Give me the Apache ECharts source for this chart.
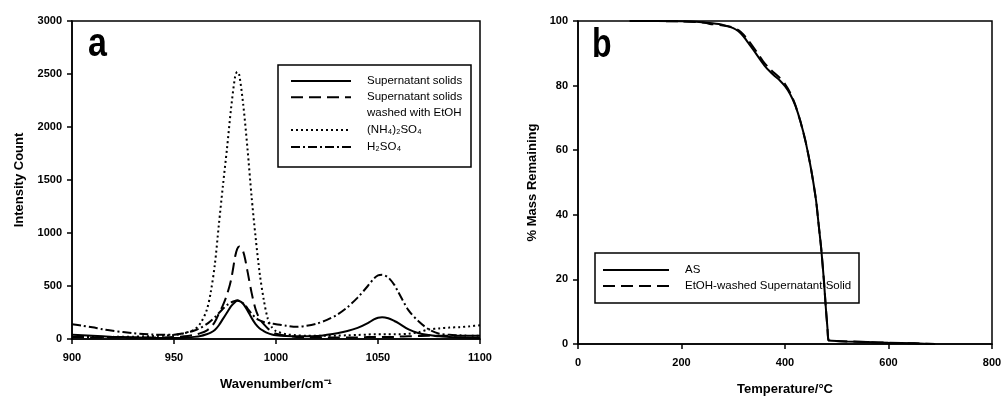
<!DOCTYPE html>
<html><head><meta charset="utf-8">
<script src="https://cdn.jsdelivr.net/npm/echarts@6/dist/echarts.min.js"></script>
<style>html,body{margin:0;padding:0;background:#fff}#c{width:1002px;height:398px}</style>
</head><body><div id="c"></div>
<script>
// ---- Panel a: Raman spectra ----
const wavenumbers = [900,905,910,915,920,925,930,935,940,945,950,955,960,963,966,968,970,972,974,976,978,980,981,982,984,986,988,990,992,994,996,998,1000,1005,1010,1015,1020,1025,1030,1035,1040,1045,1048,1050,1052,1055,1058,1060,1065,1070,1075,1080,1085,1090,1095,1100];
const supernatantSolids = [40,35,30,25,20,18,15,12,10,10,10,12,20,28,45,60,85,130,190,250,310,350,360,358,330,270,200,140,100,75,55,42,35,28,25,25,28,40,55,75,105,150,185,200,205,195,170,150,90,55,38,25,20,15,12,10];
const washedSolids = [20,18,15,15,15,15,15,15,15,15,18,25,40,55,80,110,160,240,320,420,560,780,850,872,820,640,440,280,190,140,100,70,50,30,20,15,15,15,15,15,15,18,20,20,20,20,20,22,25,28,30,30,30,30,30,30];
const ammoniumSulfate = [20,20,20,20,20,22,22,25,28,32,38,55,90,150,270,440,700,1080,1450,1800,2180,2480,2520,2490,2200,1800,1350,960,620,370,190,110,75,45,35,30,30,30,32,35,38,42,45,45,45,45,45,45,50,65,90,100,108,112,120,130];
const sulfuricAcid = [140,125,110,92,78,65,55,48,42,40,40,55,80,105,140,170,205,245,285,320,345,360,365,360,335,290,240,200,175,160,150,145,140,125,115,125,145,180,230,300,390,500,570,600,605,580,510,440,270,165,90,50,40,35,30,30];
const ramanNames = ['Supernatant solids','Supernatant solids washed with EtOH','(NH\u2084)\u2082SO\u2084','H\u2082SO\u2084'];

// ---- Panel b: TGA ----
const temperatures = [100,200,240,260,280,300,310,320,330,340,350,360,370,380,390,400,410,420,430,440,450,460,465,470,475,479,482,484,490,520,560,600,650,690];
const massAS = [100,99.9,99.6,99.3,98.8,97.8,96.8,95.2,93.0,90.8,88.5,86.3,84.5,83.0,81.6,79.8,77.3,73.8,68.8,62.5,54.5,44.5,37.0,29.5,20.0,11.0,5.0,1.2,1.0,0.8,0.6,0.4,0.2,0.0];
const massWashed = [100,99.9,99.5,99.0,98.6,98.0,97.2,95.8,93.8,91.6,89.3,87.0,85.3,83.8,82.4,80.5,77.8,74.0,68.8,62.5,54.5,44.5,37.0,29.5,20.0,11.0,5.0,1.2,1.0,0.8,0.6,0.4,0.2,0.0];
const tgaNames = ['AS','EtOH-washed Supernatant Solid'];

const FF = '"Liberation Sans", Arial, sans-serif';
const pair = (xs, ys) => xs.map((x, i) => [x, ys[i]]);

const styles = [
  {width: 2, type: 'solid'},
  {width: 2, type: [12, 6]},
  {width: 2, type: [2, 3]},
  {width: 2, type: [9, 3, 2, 3]}
];

function axisCommon() {
  return {
    axisLine: {show: true, onZero: false, lineStyle: {color: '#000', width: 1.5}},
    axisTick: {show: true, inside: false, length: 5, lineStyle: {color: '#000', width: 1.5}},
    splitLine: {show: false},
    axisLabel: {color: '#000', fontFamily: FF, fontWeight: 'bold', fontSize: 11, formatter: v => String(v)},
    nameTextStyle: {color: '#000', fontFamily: FF, fontWeight: 'bold', fontSize: 13}
  };
}

function legendItem(name, left, top, fmt, width, lh) {
  return {
    data: [name], left: left, top: top, orient: 'vertical', padding: 0,
    itemWidth: width, itemHeight: 14, itemGap: 0, selectedMode: false,
    itemStyle: {opacity: 0},
    formatter: fmt || '{name}',
    textStyle: {color: '#000', fontFamily: FF, fontSize: 11.5, lineHeight: lh || 16, padding: [0, 0, 0, 11]}
  };
}

const ramanSeries = [supernatantSolids, washedSolids, ammoniumSulfate, sulfuricAcid].map((arr, i) => ({
  name: ramanNames[i], type: 'line', xAxisIndex: 0, yAxisIndex: 0,
  data: pair(wavenumbers, arr), showSymbol: false, symbol: 'none', smooth: 0.3,
  lineStyle: Object.assign({color: '#000'}, styles[i]), itemStyle: {color: '#000'}, z: 3
}));
const tgaSeries = [massAS, massWashed].map((arr, i) => ({
  name: tgaNames[i], type: 'line', xAxisIndex: 1, yAxisIndex: 1,
  data: pair(temperatures, arr), showSymbol: false, symbol: 'none', smooth: 0.2,
  lineStyle: Object.assign({color: '#000'}, styles[i]), itemStyle: {color: '#000'}, z: 3
}));

const chart = echarts.init(document.getElementById('c'), null, {renderer: 'canvas'});
chart.setOption({
  animation: false,
  backgroundColor: '#fff',
  grid: [
    {left: 72, right: 522, top: 21, bottom: 59, show: true, borderColor: '#000', borderWidth: 1.5, backgroundColor: 'transparent', outerBoundsMode: 'none', containLabel: false},
    {left: 578, right: 10, top: 21, bottom: 54, show: true, borderColor: '#000', borderWidth: 1.5, backgroundColor: 'transparent', outerBoundsMode: 'none', containLabel: false}
  ],
  xAxis: [
    Object.assign(axisCommon(), {type: 'value', gridIndex: 0, min: 900, max: 1100, interval: 50,
      name: 'Wavenumber/cm\u207B\u00B9', nameLocation: 'middle', nameGap: 39}),
    Object.assign(axisCommon(), {type: 'value', gridIndex: 1, min: 0, max: 800, interval: 200,
      name: 'Temperature/\u00B0C', nameLocation: 'middle', nameGap: 39})
  ],
  yAxis: [
    Object.assign(axisCommon(), {type: 'value', gridIndex: 0, min: 0, max: 3000, interval: 500,
      name: 'Intensity Count', nameLocation: 'middle', nameGap: 46}),
    Object.assign(axisCommon(), {type: 'value', gridIndex: 1, min: 0, max: 100, interval: 20,
      name: '% Mass Remaining', nameLocation: 'middle', nameGap: 39})
  ],
  legend: [
    legendItem(ramanNames[0], 290, 73, null, 60),
    legendItem(ramanNames[1], 290, 73.3, function(){ return '\nSupernatant solids\nwashed with EtOH'; }, 60),
    legendItem(ramanNames[2], 290, 122, null, 60),
    legendItem(ramanNames[3], 290, 139, null, 60),
    legendItem(tgaNames[0], 602, 262, null, 66),
    legendItem(tgaNames[1], 602, 278, null, 66)
  ],
  graphic: [
    {type: 'rect', shape: {x: 278, y: 65, width: 193, height: 102}, style: {fill: 'none', stroke: '#000', lineWidth: 1.5}, z: 10},
    {type: 'rect', shape: {x: 595, y: 253, width: 264, height: 50}, style: {fill: 'none', stroke: '#000', lineWidth: 1.5}, z: 10},
    {type: 'text', x: 88, y: 45, scaleX: 0.85, style: {text: 'a', font: 'bold 40px ' + FF, fill: '#000', verticalAlign: 'middle', align: 'left'}, z: 10},
    {type: 'text', x: 592, y: 46, scaleX: 0.8, style: {text: 'b', font: 'bold 40px ' + FF, fill: '#000', verticalAlign: 'middle', align: 'left'}, z: 10}
  ],
  series: ramanSeries.concat(tgaSeries)
});
// adjust x-axis label distance
chart.setOption({xAxis: [{axisLabel: {margin: 13}}, {axisLabel: {margin: 13}}], yAxis: [{axisLabel: {margin: 10}}, {axisLabel: {margin: 10}}]});
</script>
</body></html>
